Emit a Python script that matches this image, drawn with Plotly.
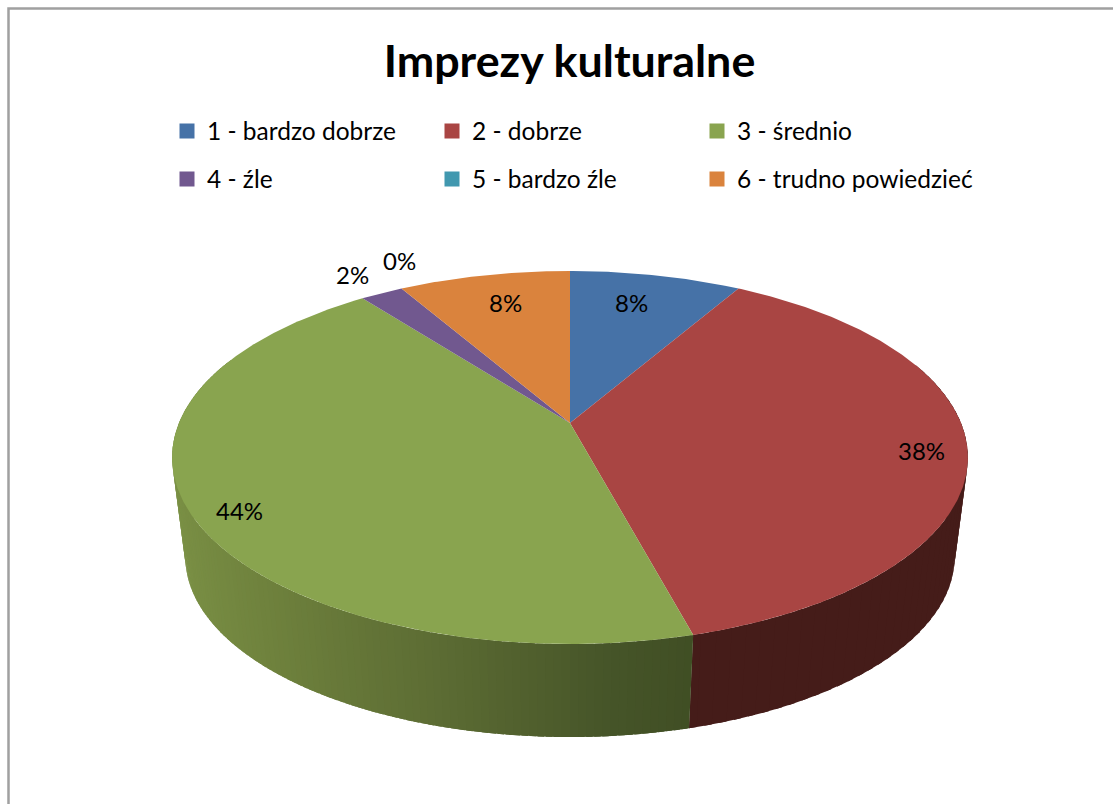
import numpy as np
import plotly.graph_objects as go

# ---- data ----
categories = ["1 - bardzo dobrze", "2 - dobrze", "3 - średnio", "4 - źle", "5 - bardzo źle", "6 - trudno powiedzieć"]
counts = [4, 18, 21, 1, 0, 4]
colors = ["#4672A7", "#A94543", "#89A44F", "#71588F", "#4198AF", "#DA833D"]
legend_groups = ["legend", "legend", "legend", "legend2", "legend2", "legend3"]

# ---- label placement (pixel-unit axes) ----
label_x = [631, 921, 239, 352, 399, 505]
label_y = [302, 450, 510, 274, 260, 302]

# ---- wall shading: colour stops against horizontal position on the rim ----
wall_stops_u = [-1.0, -0.68, -0.3, 0.0, 0.1, 0.3]
wall_stops_rgb = [(124, 146, 70), (111, 130, 61), (93, 109, 52), (75, 90, 43), (69, 84, 40), (63, 77, 35)]
red_wall = "#451C19"

# ---- projection of the unit disc: perspective tilted view ----
CX = 570.0
C = 0.185
TOP = dict(d=391.0, a=-101.9, b=423.0)
BOT = dict(d=378.0, a=-77.0, b=523.7)


def project(ring, theta_deg, r=1.0):
    t = np.radians(theta_deg)
    u, v = r * np.sin(t), r * np.cos(t)
    w = 1 + C * v
    return CX + ring["d"] * u / w, (ring["a"] * v + ring["b"]) / w


def shade(theta):
    u = np.sin(np.radians(theta))
    rgb = [np.interp(u, wall_stops_u, [s[i] for s in wall_stops_rgb]) for i in range(3)]
    return "rgb(%d,%d,%d)" % tuple(int(round(c)) for c in rgb)


def poly(xs, ys, color, name=None):
    return go.Scatter(
        x=xs, y=ys, mode="lines", fill="toself", fillcolor=color,
        line=dict(color=color, width=0),
        hoverinfo="skip", showlegend=False, name=name,
    )


def wall_band(a0, a1, color):
    th = np.linspace(a0, a1, 4)
    tx, ty = project(TOP, th)
    bx, by = project(BOT, th)
    return poly(list(tx) + list(bx[::-1]), list(ty) + list(by[::-1]), color)


fig = go.Figure()
total = sum(counts)
edges = np.cumsum([0] + counts) / total * 360.0

# side walls: red slice in bands (uniform colour), then green slice in shaded bands
for a0 in np.arange(70.0, edges[2], 2.0):
    fig.add_trace(wall_band(a0, min(a0 + 3.0, edges[2]), red_wall))

band = np.arange(292.0, edges[2], -1.0)
for a0 in band:
    fig.add_trace(wall_band(max(a0 - 1.8, edges[2]), a0, shade(a0 - 0.5)))

# top faces
for i, name in enumerate(categories):
    if counts[i] == 0:
        continue
    th = np.linspace(edges[i], edges[i + 1], max(int(edges[i + 1] - edges[i]) * 2, 4))
    rx, ry = project(TOP, th)
    ax, ay = project(TOP, 0.0, 0.0)
    fig.add_trace(poly([ax] + list(rx) + [ax], [ay] + list(ry) + [ay], colors[i], name=name))

# legend entries, two rows of three
for i, name in enumerate(categories):
    fig.add_trace(go.Scatter(
        x=[None], y=[None], mode="markers", name=name,
        marker=dict(symbol="square", size=15, color=colors[i]),
        legend=legend_groups[i], showlegend=True,
    ))

legend_common = dict(
    orientation="h", xanchor="left", yanchor="middle",
    entrywidthmode="pixels", bgcolor="rgba(0,0,0,0)",
    font=dict(family="Lato, Carlito, sans-serif", size=24.5, color="#000000"),
    itemclick=False, itemdoubleclick=False, traceorder="normal",
)

annotations = [
    dict(x=x, y=y, xref="x", yref="y", showarrow=False,
         text=f"{round(c / total * 100)}%",
         font=dict(family="Lato, Carlito, sans-serif", size=24, color="#000000"))
    for x, y, c in zip(label_x, label_y, counts)
]

fig.update_layout(
    width=1113, height=804, margin=dict(l=0, r=0, t=0, b=0),
    paper_bgcolor="#FFFFFF", plot_bgcolor="#FFFFFF",
    xaxis=dict(range=[0, 1113], visible=False, fixedrange=True),
    yaxis=dict(range=[804, 0], visible=False, fixedrange=True),
    title=dict(text="<b>Imprezy kulturalne</b>", x=569.5 / 1113, xanchor="center",
               y=1 - 61 / 804, yanchor="middle",
               font=dict(family="Lato, Carlito, sans-serif", size=44.8, color="#000000")),
    legend=dict(x=167 / 1113, y=1 - 131 / 804, entrywidth=220, **legend_common),
    legend2=dict(x=167 / 1113, y=1 - 179 / 804, entrywidth=220, **legend_common),
    legend3=dict(x=697 / 1113, y=1 - 179 / 804, entrywidth=300, **legend_common),
    annotations=annotations,
    shapes=[dict(type="path", path="M 1113 8.5 L 8.5 8.5 L 8.5 804", xref="x", yref="y",
                 line=dict(color="#A0A0A0", width=2.5))],
)

fig.write_html("out.html", config={"displayModeBar": False},
               post_script="document.body.style.margin='0';document.documentElement.style.overflow='hidden';")
